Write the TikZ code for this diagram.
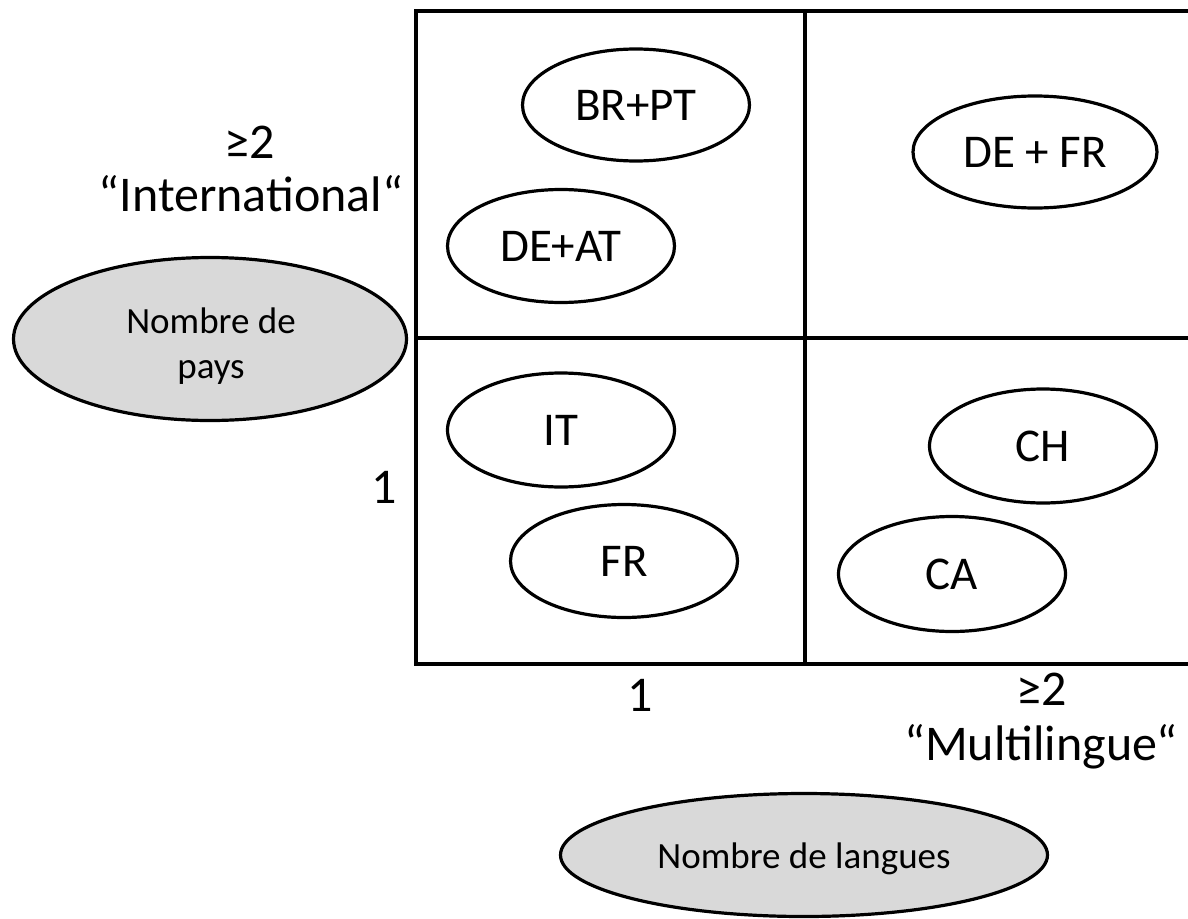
\documentclass[tikz,border=0pt]{standalone}
\usepackage{fontspec}
\setmainfont{Carlito}
\usetikzlibrary{shapes.geometric}
\tikzset{
  big/.style={font=\fontsize{50}{53}\selectfont, inner sep=0pt, anchor=base},
  country/.style={ellipse, draw=black, line width=3.2pt, fill=white, inner sep=0pt, font=\fontsize{47}{54}\selectfont},
  axisbox/.style={ellipse, draw=black, line width=3.2pt, fill=black!15, inner sep=0pt},
  axistext/.style={font=\fontsize{37}{45}\selectfont, inner sep=0pt, anchor=base},
  grid/.style={draw=black, line width=3.5pt}
}
\begin{document}
\begin{tikzpicture}[x=1pt,y=-1pt]
\useasboundingbox (0,0) rectangle (1188,918);
% grid
\coordinate (tl) at (416,11);
\coordinate (tr) at (1188,11);
\coordinate (ml) at (416,338);
\coordinate (mr) at (1188,338);
\coordinate (bl) at (416,664);
\coordinate (br) at (1188,664);
\coordinate (vt) at (805,11);
\coordinate (vb) at (805,664);
\draw[grid] (tr) -- (tl) -- (bl) -- (br);
\draw[grid] (ml) -- (mr);
\draw[grid] (vt) -- (vb);
% country ellipses
\node[country, minimum width=227pt, minimum height=112pt] (brpt) at (636,105) {BR+PT};
\node[country, minimum width=227pt, minimum height=113pt] (deat) at (561,246) {DE+AT};
\node[country, minimum width=244pt, minimum height=112pt] (defr) at (1035,152) {DE + FR};
\node[country, minimum width=227pt, minimum height=114pt] (it) at (561,430) {IT};
\node[country, minimum width=227pt, minimum height=113pt] (fr) at (624,561) {FR};
\node[country, minimum width=227pt, minimum height=114pt] (ch) at (1043,446) {CH};
\node[country, minimum width=227pt, minimum height=115pt] (ca) at (952,574) {CA};
% axis labels
\node[big] (ytop) at (250,158) {≥2};
\node[big] (yname) at (251,211) {“International“};
\node[big] (ybot) at (384,503) {1};
\node[big] (xleft) at (640,711) {1};
\node[big] (xright) at (1042,705) {≥2};
\node[big] (xname) at (1041,760) {“Multilingue“};
% gray ellipses
\node[axisbox, minimum width=393pt, minimum height=163pt] (pays) at (210,339) {};
\node[axistext] (pays1) at (211,333) {Nombre de};
\node[axistext] (pays2) at (211,378) {pays};
\node[axisbox, minimum width=487pt, minimum height=123pt] (langues) at (804,855) {};
\node[axistext] (langues1) at (804,868) {Nombre de langues};
\end{tikzpicture}
\end{document}
